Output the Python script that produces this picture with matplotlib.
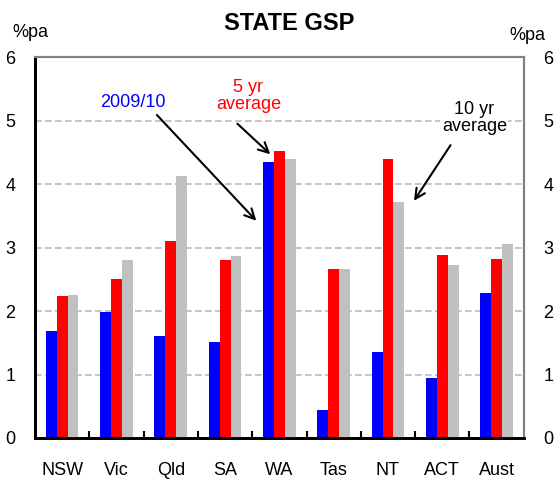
import numpy as np
import matplotlib.pyplot as plt

plt.rcParams['font.family'] = ['Liberation Sans', 'DejaVu Sans']

states = ['NSW', 'Vic', 'Qld', 'SA', 'WA', 'Tas', 'NT', 'ACT', 'Aust']
gsp_0910 = [1.69, 1.98, 1.60, 1.51, 4.34, 0.44, 1.35, 0.94, 2.29]
avg_5yr = [2.23, 2.51, 3.11, 2.80, 4.52, 2.67, 4.40, 2.89, 2.82]
avg_10yr = [2.26, 2.80, 4.12, 2.86, 4.40, 2.67, 3.71, 2.73, 3.05]

fig = plt.figure(figsize=(5.56, 4.8), dpi=100)
ax = fig.add_axes([0.063, 0.0875, 0.879, 0.7935])

x = np.arange(len(states))
w = 0.2
ax.bar(x - w, gsp_0910, w, color='#0000FF', zorder=3)
ax.bar(x, avg_5yr, w, color='#FF0000', zorder=3)
ax.bar(x + w, avg_10yr, w, color='#C0C0C0', zorder=3)

ax.set_xlim(-0.5, len(states) - 0.5)
ax.set_ylim(0, 6)
ax.set_yticks(range(7))
ax.yaxis.grid(True, color='#BBBBBB', linestyle=(0, (4, 2)), linewidth=1.2, zorder=0)

ax.set_xticks(x)
ax.set_xticklabels(states, fontsize=13)
ax.set_xticks(x[:-1] + 0.5, minor=True)
ax.tick_params(axis='x', which='major', length=0, pad=17)
ax.tick_params(axis='x', which='minor', direction='in', length=5, width=1.5)
ax.tick_params(axis='y', length=0, labelsize=13, pad=14)

ax2 = ax.twinx()
ax2.set_ylim(0, 6)
ax2.set_yticks(range(7))
ax2.tick_params(axis='y', length=0, labelsize=13, pad=14)

for a in (ax, ax2):
    a.spines['left'].set_color('black')
    a.spines['left'].set_linewidth(2)
    a.spines['bottom'].set_color('black')
    a.spines['bottom'].set_linewidth(2)
    a.spines['top'].set_color('#808080')
    a.spines['top'].set_linewidth(1.5)
    a.spines['right'].set_color('#808080')
    a.spines['right'].set_linewidth(1.5)

fig.text(0.52, 0.951, 'STATE GSP', ha='center', va='center', fontsize=17, fontweight='bold')
fig.text(0.054, 0.933, '%pa', ha='center', va='center', fontsize=13)
fig.text(0.948, 0.927, '%pa', ha='center', va='center', fontsize=13)

arrow = dict(arrowstyle='->', color='black', lw=1.5, mutation_scale=18)
ax.text(1.31, 5.29, '2009/10', color='#0000FF', fontsize=13,
        ha='center', va='center', zorder=5)
ax.annotate('', xy=(3.61, 3.39), xytext=(1.71, 5.12), arrowprops=arrow, zorder=5)
ax.text(3.43, 5.39, '5 yr\naverage', color='#FF0000', fontsize=13,
        ha='center', va='center', linespacing=1.0, zorder=5)
ax.annotate('', xy=(3.87, 4.44), xytext=(3.19, 4.98), arrowprops=arrow, zorder=5)
ax.text(7.59, 5.04, '10 yr\naverage', color='black', fontsize=13,
        ha='center', va='center', linespacing=1.0, zorder=5,
        bbox=dict(facecolor='white', edgecolor='none', pad=1))
ax.annotate('', xy=(6.45, 3.70), xytext=(7.18, 4.65), arrowprops=arrow, zorder=5)

fig.savefig('out.png', dpi=100)
